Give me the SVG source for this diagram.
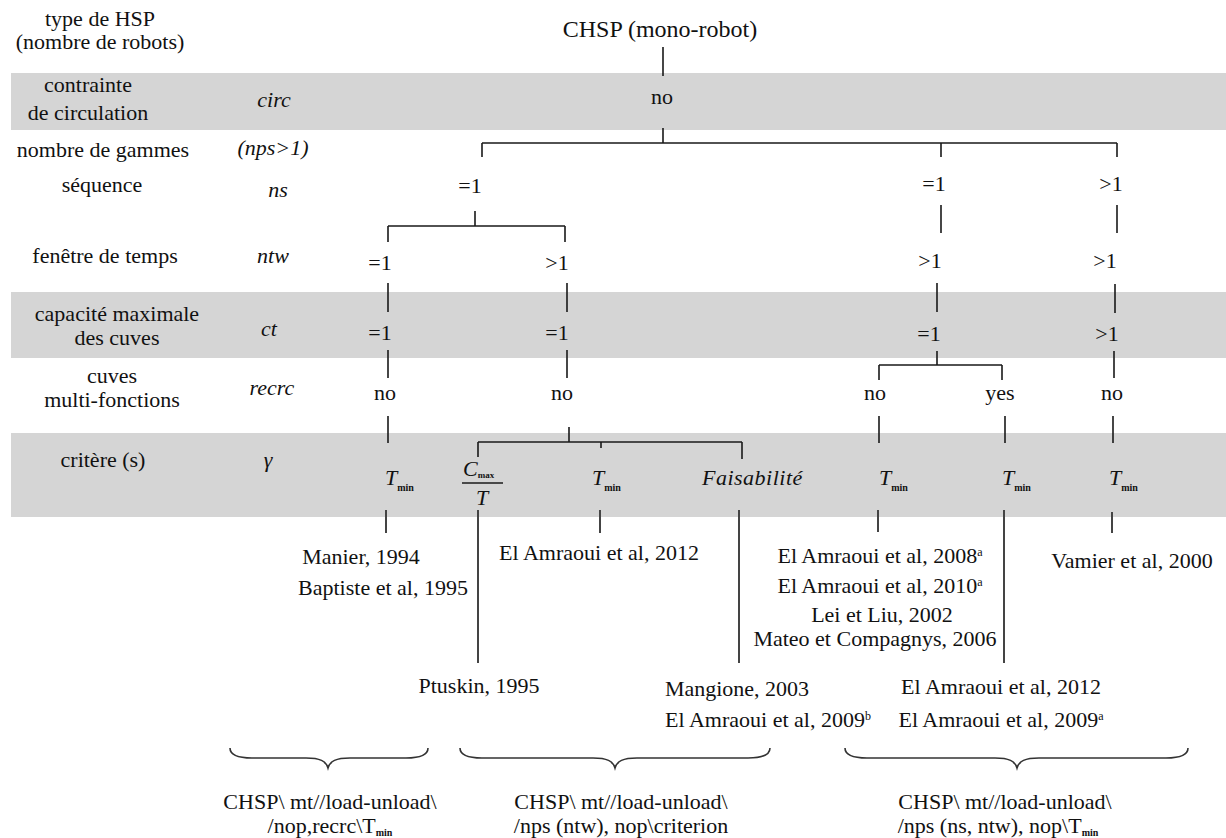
<svg xmlns="http://www.w3.org/2000/svg" width="1226" height="838" viewBox="0 0 1226 838" font-family="Liberation Serif, DejaVu Serif, serif">
<style>
text{font-family:'Liberation Serif','DejaVu Serif',serif}
.t{font-size:22px;fill:#111;text-anchor:middle}
.i{font-style:italic}
.s{text-anchor:start}
.band{fill:#d5d5d5}
.ln{stroke:#1a1a1a;stroke-width:1.6;fill:none}
.ln2{stroke:#444;stroke-width:2;fill:none}
.br{stroke:#333;stroke-width:1.6;fill:none}
.sub{font-size:10px;font-weight:bold;font-style:normal}
.sup{font-size:12px}
</style>
<g id="bands">
<rect class="band" x="11" y="73" width="1215" height="57"/>
<rect class="band" x="11" y="292" width="1215" height="66"/>
<rect class="band" x="11" y="433" width="1215" height="84"/>
</g>
<g id="row-labels">
<text class="t" x="100" y="26">type de HSP</text>
<text class="t" x="100" y="49">(nombre de robots)</text>
<text class="t" x="88" y="92">contrainte</text>
<text class="t" x="88" y="120">de circulation</text>
<text class="t i" x="274" y="107">circ</text>
<text class="t" x="103" y="157">nombre de gammes</text>
<text class="t i" x="273" y="155">(nps&gt;1)</text>
<text class="t" x="102" y="192">séquence</text>
<text class="t i" x="278" y="197">ns</text>
<text class="t" x="105" y="263">fenêtre de temps</text>
<text class="t i" x="273" y="263">ntw</text>
<text class="t" x="117" y="321">capacité maximale</text>
<text class="t" x="117" y="345">des cuves</text>
<text class="t i" x="269" y="336">ct</text>
<text class="t" x="112" y="383">cuves</text>
<text class="t" x="112" y="407">multi-fonctions</text>
<text class="t i" x="272" y="395">recrc</text>
<text class="t" x="103" y="467">critère (s)</text>
<text class="t i" x="268" y="467">γ</text>
</g>
<g id="connectors">
<path class="ln" d="M663,47V76 M663,128V143 M482,143H1117 M482,143V157 M941,143V157 M1117,143V157"/>
<path class="ln" d="M475,211V226 M388,226H565 M388,226V242 M565,226V242 M941,205V233 M1117,205V233"/>
<path class="ln" d="M388,283V312 M567,283V312 M937,283V312 M1115,284V313"/>
<path class="ln" d="M388,350V378 M567,350V378 M937,351V365 M1114,351V378 M879,365H1002 M879,365V380 M1002,365V380"/>
<path class="ln" d="M388,416V443 M569,427V442 M478,442H742 M478,442V457 M601,442V448 M742,442V459 M879,416V443 M1005,416V443 M1113,416V443"/>
<path class="ln2" d="M386,510V533 M478,510V663 M600,510V533 M739,510V663 M878,510V532 M1004,510V663 M1112,512V533"/>
</g>
<g id="n-root"><text class="t" x="660" y="37" style="font-size:24px">CHSP (mono-robot)</text></g>
<g id="n-circ"><text class="t" x="662" y="104">no</text></g>
<g id="n-ns1"><text class="t" x="470" y="193">=1</text></g>
<g id="n-ns2"><text class="t" x="934" y="191">=1</text></g>
<g id="n-ns3"><text class="t" x="1111" y="191">&gt;1</text></g>
<g id="n-ntw1"><text class="t" x="380" y="270">=1</text></g>
<g id="n-ntw2"><text class="t" x="557" y="270">&gt;1</text></g>
<g id="n-ntw3"><text class="t" x="930" y="268">&gt;1</text></g>
<g id="n-ntw4"><text class="t" x="1105" y="268">&gt;1</text></g>
<g id="n-ct1"><text class="t" x="380" y="340">=1</text></g>
<g id="n-ct2"><text class="t" x="557" y="340">=1</text></g>
<g id="n-ct3"><text class="t" x="929" y="341">=1</text></g>
<g id="n-ct4"><text class="t" x="1107" y="341">&gt;1</text></g>
<g id="n-rec1"><text class="t" x="385" y="400">no</text></g>
<g id="n-rec2"><text class="t" x="562" y="400">no</text></g>
<g id="n-rec3"><text class="t" x="875" y="400">no</text></g>
<g id="n-rec4"><text class="t" x="1000" y="400">yes</text></g>
<g id="n-rec5"><text class="t" x="1112" y="400">no</text></g>
<g id="n-crit1"><text class="t s" x="385" y="485"><tspan class="i">T</tspan><tspan class="sub" dy="6">min</tspan></text></g>
<g id="n-crit2">
<text class="t s" x="463" y="476"><tspan class="i">C</tspan><tspan class="sub" style="font-size:9px" dy="2">max</tspan></text>
<line class="ln" x1="462" y1="483" x2="503" y2="483"/>
<text class="t i" x="482" y="505">T</text>
</g>
<g id="n-crit3"><text class="t s" x="592" y="485"><tspan class="i">T</tspan><tspan class="sub" dy="6">min</tspan></text></g>
<g id="n-crit4"><text class="t i s" x="702" y="485" style="letter-spacing:0.5px">Faisabilité</text></g>
<g id="n-crit5"><text class="t s" x="879" y="485"><tspan class="i">T</tspan><tspan class="sub" dy="6">min</tspan></text></g>
<g id="n-crit6"><text class="t s" x="1002" y="485"><tspan class="i">T</tspan><tspan class="sub" dy="6">min</tspan></text></g>
<g id="n-crit7"><text class="t s" x="1109" y="485"><tspan class="i">T</tspan><tspan class="sub" dy="6">min</tspan></text></g>
<g id="refs">
<text class="t" x="361" y="564">Manier, 1994</text>
<text class="t" x="383" y="595">Baptiste et al, 1995</text>
<text class="t" x="599" y="560">El Amraoui et al, 2012</text>
<text class="t" x="479" y="693">Ptuskin, 1995</text>
<text class="t" x="737" y="696">Mangione, 2003</text>
<text class="t" x="768" y="727">El Amraoui et al, 2009<tspan class="sup" dy="-7">b</tspan></text>
<text class="t" x="880" y="563">El Amraoui et al, 2008<tspan class="sup" dy="-7">a</tspan></text>
<text class="t" x="880" y="593">El Amraoui et al, 2010<tspan class="sup" dy="-7">a</tspan></text>
<text class="t" x="882" y="622">Lei et Liu, 2002</text>
<text class="t" x="875" y="646">Mateo et Compagnys, 2006</text>
<text class="t" x="1132" y="568">Vamier et al, 2000</text>
<text class="t" x="1001" y="694">El Amraoui et al, 2012</text>
<text class="t" x="1001" y="727">El Amraoui et al, 2009<tspan class="sup" dy="-7">a</tspan></text>
</g>
<g id="braces">
<path class="br" d="M230,748 C230,755 238,758 252,758 L306,758 C320,758 326,761 328,768 C330,761 336,758 350,758 L406,758 C420,758 428,755 428,748"/>
<path class="br" d="M460,748 C460,755 468,758 482,758 L593,758 C607,758 613,761 615,768 C617,761 623,758 637,758 L748,758 C762,758 770,755 770,748"/>
<path class="br" d="M845,748 C845,755 853,758 867,758 L995,758 C1009,758 1015,761 1017,768 C1019,761 1025,758 1039,758 L1166,758 C1180,758 1188,755 1188,748"/>
</g>
<g id="classes">
<text class="t" x="330" y="809">CHSP\ mt//load-unload\</text>
<text class="t" x="330" y="833">/nop,recrc\T<tspan class="sub" dy="3">min</tspan></text>
<text class="t" x="621" y="809">CHSP\ mt//load-unload\</text>
<text class="t" x="621" y="833">/nps (ntw), nop\criterion</text>
<text class="t" x="1005" y="809">CHSP\ mt//load-unload\</text>
<text class="t" x="998" y="833">/nps (ns, ntw), nop\T<tspan class="sub" dy="3">min</tspan></text>
</g>
</svg>
